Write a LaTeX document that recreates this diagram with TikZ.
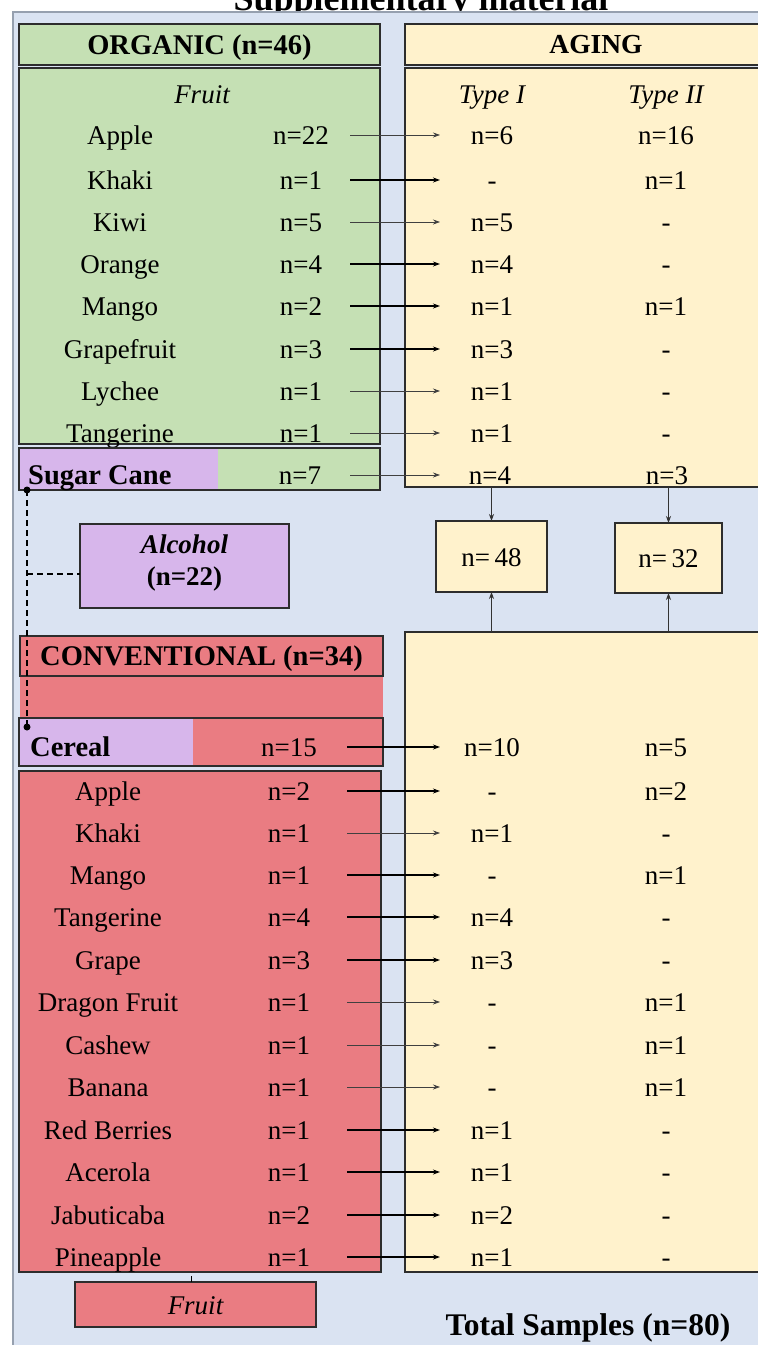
\documentclass[tikz,border=0pt]{standalone}
\usepackage{fontspec}
\setmainfont{Liberation Serif}
\usetikzlibrary{arrows.meta}
\definecolor{bgblue}{RGB}{218,227,242}
\definecolor{orgGreen}{RGB}{197,224,180}
\definecolor{agYellow}{RGB}{255,242,204}
\definecolor{convRed}{RGB}{234,124,130}
\definecolor{lav}{RGB}{215,182,235}
\definecolor{edge}{RGB}{45,45,45}
\definecolor{panelEdge}{RGB}{150,160,175}
\begin{document}
\begin{tikzpicture}[x=1pt,y=-1pt,
  box/.style={draw=edge, line width=1.2pt, inner sep=0pt, outer sep=0pt, anchor=north west},
  txt/.style={font=\fontsize{27}{30}\selectfont, inner sep=0pt, text height=19pt, text depth=0pt},
  btxt/.style={txt, font=\bfseries\fontsize{28.5}{31}\selectfont},
  arrthick/.style={line width=1.1pt, draw=black, -{Stealth[length=7pt,width=5pt]}},
  arrthin/.style={line width=0.7pt, draw=black!75, -{Stealth[length=7pt,width=5pt]}},
  vline/.style={line width=0.7pt, draw=black!80, -{Stealth[length=7pt,width=5pt]}},
  dashln/.style={line width=1.8pt, dash pattern=on 6pt off 4pt},
]
\useasboundingbox (0,0) rectangle (758,1345);
% title (cut off at top, as in the reference)
\node[font=\bfseries\fontsize{36}{40}\selectfont, inner sep=0pt, anchor=base] (title) at (421,10) {Supplementary material};
% background panel
\node[box, draw=panelEdge, fill=bgblue, minimum width=780pt, minimum height=1360pt] (panel) at (13,12) {};

% ---------- ORGANIC ----------
\node[box, fill=orgGreen, minimum width=361pt, minimum height=41pt] (orghead) at (19,24) {};
\node[btxt] (orgtitle) at (orghead.center) {ORGANIC (n=46)};
\node[box, fill=orgGreen, minimum width=361pt, minimum height=376pt] (orgbox) at (19,68) {};
\node[txt, font=\itshape\fontsize{27}{30}\selectfont] (orgfruit) at (202,94) {Fruit};

% ---------- AGING upper ----------
\node[box, fill=agYellow, minimum width=383pt, minimum height=41pt] (aghead) at (405,24) {};
\node[txt, font=\bfseries\fontsize{27.5}{30}\selectfont] (agtitle) at (596,44) {AGING};
\node[box, fill=agYellow, minimum width=383pt, minimum height=419pt] (agbox) at (405,68) {};
\node[txt, font=\itshape\fontsize{27}{30}\selectfont] (t1head) at (492,94) {Type I};
\node[txt, font=\itshape\fontsize{27}{30}\selectfont] (t2head) at (666,94) {Type II};

% organic rows
\foreach \i/\y/\nm/\n/\a/\b/\st in {
  1/135/Apple/n=22/n=6/n=16/arrthin,
  2/180/Khaki/n=1/-/n=1/arrthick,
  3/222/Kiwi/n=5/n=5/-/arrthin,
  4/264/Orange/n=4/n=4/-/arrthick,
  5/306/Mango/n=2/n=1/n=1/arrthick,
  6/349/Grapefruit/n=3/n=3/-/arrthick,
  7/391/Lychee/n=1/n=1/-/arrthin,
  8/433/Tangerine/n=1/n=1/-/arrthin}{
  \node[txt] (oname\i) at (120,\y) {\nm};
  \node[txt] (on\i) at (301,\y) {\n};
  \node[txt] (oa\i) at (492,\y) {\a};
  \node[txt] (ob\i) at (666,\y) {\b};
  \coordinate (os\i) at (350,\y);
  \coordinate (ot\i) at (440,\y);
  \draw[\st] (os\i) -- (ot\i);
}

% sugar cane
\node[box, fill=orgGreen, minimum width=361pt, minimum height=42pt,
  path picture={\fill[lav] (path picture bounding box.north west) rectangle ([xshift=199pt]path picture bounding box.south west);}] (sugar) at (19,448) {};
\node[btxt, anchor=west] (sugarname) at (28,475) {Sugar Cane};
\node[txt] (sn) at (300,475) {n=7};
\node[txt] (sa) at (490,475) {n=4};
\node[txt] (sb) at (667,475) {n=3};
\coordinate (ss) at (350,475);
\coordinate (st) at (440,475);
\draw[arrthin] (ss) -- (st);

% totals
\node[box, fill=agYellow, minimum width=111pt, minimum height=71pt] (tot1) at (436,521) {};
\node[txt] (tot1t) at (tot1.center) {n=\,48};
\node[box, fill=agYellow, minimum width=107pt, minimum height=70pt] (tot2) at (615,523) {};
\node[txt] (tot2t) at (tot2.center) {n=\,32};

% alcohol
\node[box, fill=lav, minimum width=209pt, minimum height=84pt] (alc) at (80,524) {};
\node[inner sep=0pt, align=center, font=\bfseries\fontsize{27}{32}\selectfont] (alct) at ([yshift=3pt]alc.center) {\textit{Alcohol}\\(n=22)};

% ---------- CONVENTIONAL ----------
\fill[convRed] (20,676) rectangle (383,718);
\node[box, fill=convRed, minimum width=363pt, minimum height=40pt] (convhead) at (20,636) {};
\node[btxt] (convtitle) at (convhead.center) {CONVENTIONAL (n=34)};
\node[box, fill=convRed, minimum width=364pt, minimum height=48pt,
  path picture={\fill[lav] (path picture bounding box.north west) rectangle ([xshift=174pt]path picture bounding box.south west);}] (cereal) at (19,718) {};
\node[box, fill=convRed, minimum width=362pt, minimum height=501pt] (convbox) at (19,771) {};

% aging lower
\node[box, fill=agYellow, minimum width=383pt, minimum height=640pt] (agbox2) at (405,632) {};

\node[btxt, anchor=west] (cerealname) at (30,747) {Cereal};
\node[txt] (cn) at (289,747) {n=15};
\node[txt] (ca) at (492,747) {n=10};
\node[txt] (cb) at (666,747) {n=5};
\coordinate (cs) at (347,747);
\coordinate (ct) at (440,747);
\draw[arrthick] (cs) -- (ct);

\foreach \i/\y/\nm/\n/\a/\b/\st in {
  1/791/Apple/n=2/-/n=2/arrthick,
  2/833/Khaki/n=1/n=1/-/arrthin,
  3/875/Mango/n=1/-/n=1/arrthick,
  4/917/Tangerine/n=4/n=4/-/arrthick,
  5/960/Grape/n=3/n=3/-/arrthick,
  6/1002/Dragon Fruit/n=1/-/n=1/arrthin,
  7/1045/Cashew/n=1/-/n=1/arrthin,
  8/1087/Banana/n=1/-/n=1/arrthin,
  9/1130/Red Berries/n=1/n=1/-/arrthick,
  10/1172/Acerola/n=1/n=1/-/arrthick,
  11/1215/Jabuticaba/n=2/n=2/-/arrthick,
  12/1257/Pineapple/n=1/n=1/-/arrthick}{
  \node[txt] (cname\i) at (108,\y) {\nm};
  \node[txt] (cnn\i) at (289,\y) {\n};
  \node[txt] (cva\i) at (492,\y) {\a};
  \node[txt] (cvb\i) at (666,\y) {\b};
  \coordinate (cs\i) at (347,\y);
  \coordinate (ct\i) at (440,\y);
  \draw[\st] (cs\i) -- (ct\i);
}

% fruit label box
\node[box, fill=convRed, minimum width=241pt, minimum height=45pt] (flbl) at (75,1282) {};
\node[txt, font=\itshape\fontsize{27}{30}\selectfont] (flblt) at (flbl.center) {Fruit};
\draw[dashln, line width=1.5pt] ([xshift=-4pt]flbl.north) -- ([xshift=-4pt]flbl.north |- convbox.south);

% total samples
\node[txt, font=\bfseries\fontsize{31.5}{34}\selectfont] (total) at (588,1326) {Total Samples (n=80)};

% vertical arrows to totals
\draw[vline] (tot1.north |- agbox.south) -- (tot1.north);
\draw[vline] (tot2.north |- agbox.south) -- (tot2.north);
\draw[vline] (tot1.south |- agbox2.north) -- (tot1.south);
\draw[vline] (tot2.south |- agbox2.north) -- (tot2.south);

% dashed alcohol connector
\coordinate (dtop) at (27,490);
\coordinate (dbot) at (27,727);
\coordinate (dmid) at (27,574);
\draw[dashln] (dtop) -- (dbot);
\draw[dashln] (dmid) -- (dmid -| alc.west);
\fill (dtop) circle (3.5pt);
\fill (dbot) circle (3.5pt);
\end{tikzpicture}
\end{document}
